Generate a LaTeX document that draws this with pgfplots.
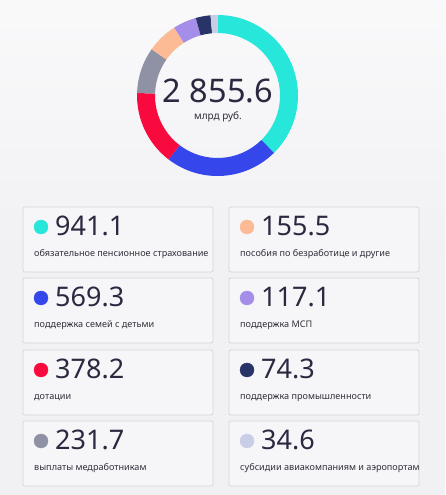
\documentclass[border=0pt]{standalone}
\usepackage{pgfplots}
\usepackage{pgfplotstable}
\pgfplotsset{compat=1.18}
\usepackage{fontspec}
\setmainfont{Noto Sans}
\definecolor{cCyan}{HTML}{27E7DB}
\definecolor{cBlue}{HTML}{3546EA}
\definecolor{cRed}{HTML}{F80A3E}
\definecolor{cGray}{HTML}{8E92A4}
\definecolor{cPeach}{HTML}{FCBA95}
\definecolor{cPurple}{HTML}{A58DEA}
\definecolor{cNavy}{HTML}{283468}
\definecolor{cLight}{HTML}{C7CEE6}
\definecolor{bgc}{HTML}{F1F1F4}
\definecolor{cardc}{HTML}{F6F6F9}
\definecolor{cardb}{HTML}{D5D5DC}
\definecolor{txt}{HTML}{2B293F}
\definecolor{lbl}{HTML}{2E2E38}

\pgfplotstableread{
value color
941.1 cCyan
569.3 cBlue
378.2 cRed
231.7 cGray
155.5 cPeach
117.1 cPurple
74.3 cNavy
34.6 cLight
}\donut

\begin{document}
\begin{tikzpicture}
\begin{axis}[
  x=1pt, y=1pt, xmin=0, xmax=445, ymin=0, ymax=495,
  hide axis, clip=false, at={(0,0)}, anchor=south west,
]
% background
\fill[bgc] (axis cs:0,0) rectangle (axis cs:445,495);
\shade[top color=white!60!bgc, bottom color=bgc] (axis cs:0,240) rectangle (axis cs:445,495);

% donut
\pgfplotstablegetrowsof{\donut}
\pgfmathtruncatemacro\N{\pgfplotsretval-1}
\def\tot{0}
\pgfplotsforeachungrouped \i in {0,...,\N}{%
  \pgfplotstablegetelem{\i}{value}\of\donut
  \pgfmathsetmacro\tot{\tot+\pgfplotsretval}%
}
\def\cum{0}
\pgfplotsforeachungrouped \i in {0,...,\N}{%
  \pgfplotstablegetelem{\i}{value}\of\donut \let\v\pgfplotsretval
  \pgfplotstablegetelem{\i}{color}\of\donut \let\c\pgfplotsretval
  \pgfmathsetmacro\a{90-360*(\cum/\tot)}%
  \pgfmathsetmacro\b{90-360*((\cum+\v)/\tot)}%
  \edef\temp{\noexpand\fill[\c] (axis cs:{217.5+80.5*cos(\a)},{399.5+80.5*sin(\a)}) arc[start angle=\a, end angle=\b, radius=80.5] -- (axis cs:{217.5+62.5*cos(\b)},{399.5+62.5*sin(\b)}) arc[start angle=\b, end angle=\a, radius=62.5] -- cycle;}%
  \temp
  \pgfmathsetmacro\cum{\cum+\v}%
}
\node[anchor=base, text=txt, font=\fontsize{32.5}{36}\selectfont] at (axis cs:218,392) {2 855.6};
\node[anchor=base, text=lbl, font=\fontsize{10}{12}\selectfont] at (axis cs:218,375) {млрд руб.};

% cards
\pgfplotsinvokeforeach{207,278,350,421}{
  \draw[cardb, fill=cardc, rounded corners=2pt, line width=0.8pt] (axis cs:23,{495-#1}) rectangle (axis cs:213,{430-#1});
  \draw[cardb, fill=cardc, rounded corners=2pt, line width=0.8pt] (axis cs:229,{495-#1}) rectangle (axis cs:419,{430-#1});
}

% dots
\addplot[only marks, mark=*, mark size=7pt, color=cCyan] coordinates {(41,268)};
\addplot[only marks, mark=*, mark size=7pt, color=cBlue] coordinates {(41,197)};
\addplot[only marks, mark=*, mark size=7pt, color=cRed] coordinates {(41,125)};
\addplot[only marks, mark=*, mark size=7pt, color=cGray] coordinates {(41,54)};
\addplot[only marks, mark=*, mark size=7pt, color=cPeach] coordinates {(247,268)};
\addplot[only marks, mark=*, mark size=7pt, color=cPurple] coordinates {(247,197)};
\addplot[only marks, mark=*, mark size=7pt, color=cNavy] coordinates {(247,125)};
\addplot[only marks, mark=*, mark size=7pt, color=cLight] coordinates {(247,54)};

% values and labels
\tikzset{val/.style={anchor=base west, inner sep=0pt, text=txt, font=\fontsize{27}{30}\selectfont},
         lab/.style={anchor=base west, inner sep=0pt, text=lbl, font=\fontsize{9.1}{11}\selectfont}}
\node[val] at (axis cs:55,259) {941.1};
\node[lab] at (axis cs:34,238) {обязательное пенсионное страхование};
\node[val] at (axis cs:55,188) {569.3};
\node[lab] at (axis cs:34,167) {поддержка семей с детьми};
\node[val] at (axis cs:55,116) {378.2};
\node[lab] at (axis cs:34,95) {дотации};
\node[val] at (axis cs:55,45) {231.7};
\node[lab] at (axis cs:34,24) {выплаты медработникам};
\node[val] at (axis cs:261,259) {155.5};
\node[lab] at (axis cs:240,238) {пособия по безработице и другие};
\node[val] at (axis cs:261,188) {117.1};
\node[lab] at (axis cs:240,167) {поддержка МСП};
\node[val] at (axis cs:261,116) {74.3};
\node[lab] at (axis cs:240,95) {поддержка промышленности};
\node[val] at (axis cs:261,45) {34.6};
\node[lab] at (axis cs:240,24) {субсидии авиакомпаниям и аэропортам};
\end{axis}
\end{tikzpicture}
\end{document}
